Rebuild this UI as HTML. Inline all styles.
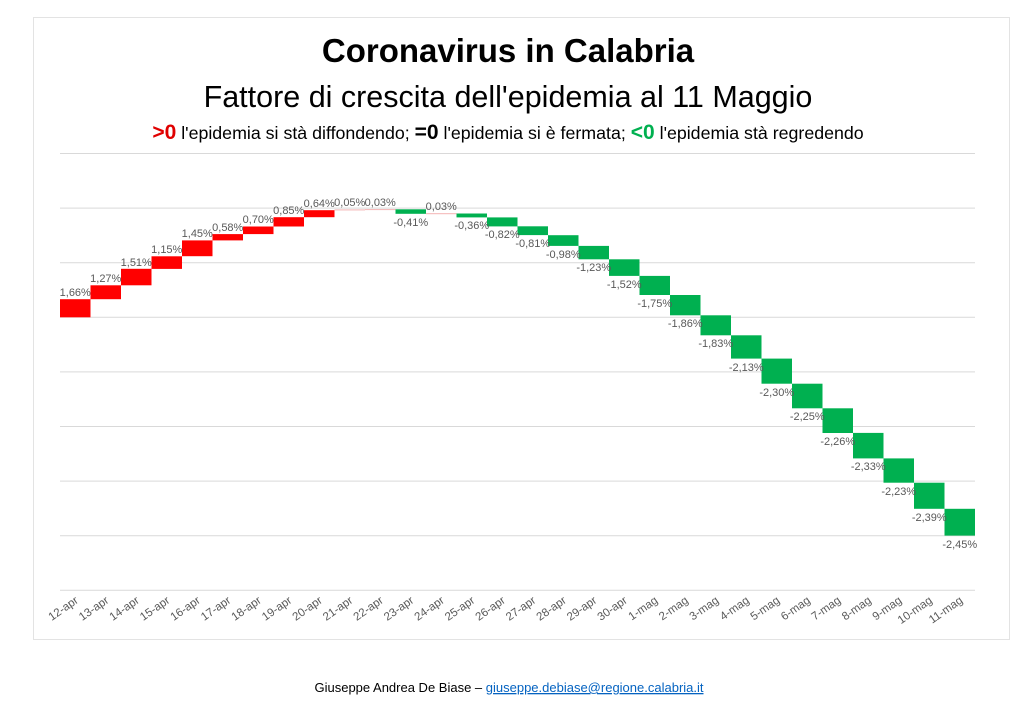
<!DOCTYPE html>
<html><head><meta charset="utf-8">
<style>
body{margin:0;background:#fff;}
svg{display:block;font-family:"Liberation Sans",Arial,sans-serif;}
</style></head>
<body>
<svg width="1024" height="725" xmlns="http://www.w3.org/2000/svg">
<rect x="0" y="0" width="1024" height="725" fill="#fff"/>
<rect x="33.5" y="17.5" width="976" height="622" fill="#fff" stroke="#e3e3e3" stroke-width="1"/>
<text x="508" y="62" text-anchor="middle" font-size="33" font-weight="bold" fill="#000">Coronavirus in Calabria</text>
<text x="508" y="107" text-anchor="middle" font-size="30.5" fill="#000">Fattore di crescita dell'epidemia al 11 Maggio</text>
<text x="508" y="139" text-anchor="middle" font-size="17.8" fill="#000"><tspan fill="#e00000" font-weight="bold" font-size="21">&gt;0</tspan> l'epidemia si stà diffondendo; <tspan font-weight="bold" font-size="21">=0</tspan> l'epidemia si è fermata; <tspan fill="#00b050" font-weight="bold" font-size="21">&lt;0</tspan> l'epidemia stà regredendo</text>
<g stroke="#d9d9d9" stroke-width="1">
<line x1="60" x2="975" y1="153.5" y2="153.5"/><line x1="60" x2="975" y1="208.1" y2="208.1"/><line x1="60" x2="975" y1="262.7" y2="262.7"/><line x1="60" x2="975" y1="317.3" y2="317.3"/><line x1="60" x2="975" y1="371.9" y2="371.9"/><line x1="60" x2="975" y1="426.5" y2="426.5"/><line x1="60" x2="975" y1="481.1" y2="481.1"/><line x1="60" x2="975" y1="535.7" y2="535.7"/><line x1="60" x2="975" y1="590.3" y2="590.3"/>
</g>
<g fill="#ff0000">
<rect x="60" y="299.2" width="30.5" height="18.1"/>
<rect x="90.5" y="285.3" width="30.5" height="13.9"/>
<rect x="121" y="268.8" width="30.5" height="16.5"/>
<rect x="151.5" y="256.3" width="30.5" height="12.6"/>
<rect x="182" y="240.4" width="30.5" height="15.8"/>
<rect x="212.5" y="234.1" width="30.5" height="6.3"/>
<rect x="243" y="226.5" width="30.5" height="7.6"/>
<rect x="273.5" y="217.2" width="30.5" height="9.3"/>
<rect x="304" y="210.2" width="30.5" height="7.0"/>
</g>
<g fill="#f4b4b4">
<rect x="334.5" y="209.4" width="30.5" height="1"/>
<rect x="365" y="209.1" width="30.5" height="1"/>
<rect x="426" y="213.2" width="30.5" height="1"/>
</g>
<g fill="#00b050">
<rect x="395.5" y="209.3" width="30.5" height="4.5"/>
<rect x="456.5" y="213.5" width="30.5" height="3.9"/>
<rect x="487" y="217.4" width="30.5" height="9.0"/>
<rect x="517.5" y="226.3" width="30.5" height="8.8"/>
<rect x="548" y="235.2" width="30.5" height="10.7"/>
<rect x="578.5" y="245.9" width="30.5" height="13.4"/>
<rect x="609" y="259.3" width="30.5" height="16.6"/>
<rect x="639.5" y="275.9" width="30.5" height="19.1"/>
<rect x="670" y="295.0" width="30.5" height="20.3"/>
<rect x="700.5" y="315.3" width="30.5" height="20.0"/>
<rect x="731" y="335.3" width="30.5" height="23.3"/>
<rect x="761.5" y="358.6" width="30.5" height="25.1"/>
<rect x="792" y="383.7" width="30.5" height="24.6"/>
<rect x="822.5" y="408.3" width="30.5" height="24.7"/>
<rect x="853" y="432.9" width="30.5" height="25.5"/>
<rect x="883.5" y="458.4" width="30.5" height="24.3"/>
<rect x="914" y="482.7" width="30.5" height="26.1"/>
<rect x="944.5" y="508.8" width="30.5" height="26.8"/>
</g>
<g font-size="11" fill="#595959" text-anchor="middle">
<text x="75.25" y="296">1,66%</text>
<text x="105.75" y="282">1,27%</text>
<text x="136.25" y="266">1,51%</text>
<text x="166.75" y="253">1,15%</text>
<text x="197.25" y="237">1,45%</text>
<text x="227.75" y="231">0,58%</text>
<text x="258.25" y="223">0,70%</text>
<text x="288.75" y="214">0,85%</text>
<text x="319.25" y="207">0,64%</text>
<text x="349.75" y="206">0,05%</text>
<text x="380.25" y="206">0,03%</text>
<text x="410.75" y="226">-0,41%</text>
<text x="441.25" y="210">0,03%</text>
<text x="471.75" y="229">-0,36%</text>
<text x="502.25" y="238">-0,82%</text>
<text x="532.75" y="247">-0,81%</text>
<text x="563.25" y="258">-0,98%</text>
<text x="593.75" y="271">-1,23%</text>
<text x="624.25" y="288">-1,52%</text>
<text x="654.75" y="307">-1,75%</text>
<text x="685.25" y="327">-1,86%</text>
<text x="715.75" y="347">-1,83%</text>
<text x="746.25" y="371">-2,13%</text>
<text x="776.75" y="396">-2,30%</text>
<text x="807.25" y="420">-2,25%</text>
<text x="837.75" y="445">-2,26%</text>
<text x="868.25" y="470">-2,33%</text>
<text x="898.75" y="495">-2,23%</text>
<text x="929.25" y="521">-2,39%</text>
<text x="959.75" y="548">-2,45%</text>
</g>
<g font-size="11.5" fill="#595959" text-anchor="end">
<text transform="translate(79,602) rotate(-35)">12-apr</text>
<text transform="translate(109.5,602) rotate(-35)">13-apr</text>
<text transform="translate(140,602) rotate(-35)">14-apr</text>
<text transform="translate(170.5,602) rotate(-35)">15-apr</text>
<text transform="translate(201,602) rotate(-35)">16-apr</text>
<text transform="translate(231.5,602) rotate(-35)">17-apr</text>
<text transform="translate(262,602) rotate(-35)">18-apr</text>
<text transform="translate(292.5,602) rotate(-35)">19-apr</text>
<text transform="translate(323,602) rotate(-35)">20-apr</text>
<text transform="translate(353.5,602) rotate(-35)">21-apr</text>
<text transform="translate(384,602) rotate(-35)">22-apr</text>
<text transform="translate(414.5,602) rotate(-35)">23-apr</text>
<text transform="translate(445,602) rotate(-35)">24-apr</text>
<text transform="translate(475.5,602) rotate(-35)">25-apr</text>
<text transform="translate(506,602) rotate(-35)">26-apr</text>
<text transform="translate(536.5,602) rotate(-35)">27-apr</text>
<text transform="translate(567,602) rotate(-35)">28-apr</text>
<text transform="translate(597.5,602) rotate(-35)">29-apr</text>
<text transform="translate(628,602) rotate(-35)">30-apr</text>
<text transform="translate(658.5,602) rotate(-35)">1-mag</text>
<text transform="translate(689,602) rotate(-35)">2-mag</text>
<text transform="translate(719.5,602) rotate(-35)">3-mag</text>
<text transform="translate(750,602) rotate(-35)">4-mag</text>
<text transform="translate(780.5,602) rotate(-35)">5-mag</text>
<text transform="translate(811,602) rotate(-35)">6-mag</text>
<text transform="translate(841.5,602) rotate(-35)">7-mag</text>
<text transform="translate(872,602) rotate(-35)">8-mag</text>
<text transform="translate(902.5,602) rotate(-35)">9-mag</text>
<text transform="translate(933,602) rotate(-35)">10-mag</text>
<text transform="translate(963.5,602) rotate(-35)">11-mag</text>
</g>
<text x="509" y="692" text-anchor="middle" font-size="13" fill="#000">Giuseppe Andrea De Biase – <tspan fill="#0563c1" text-decoration="underline">giuseppe.debiase@regione.calabria.it</tspan></text>
</svg>
</body></html>
